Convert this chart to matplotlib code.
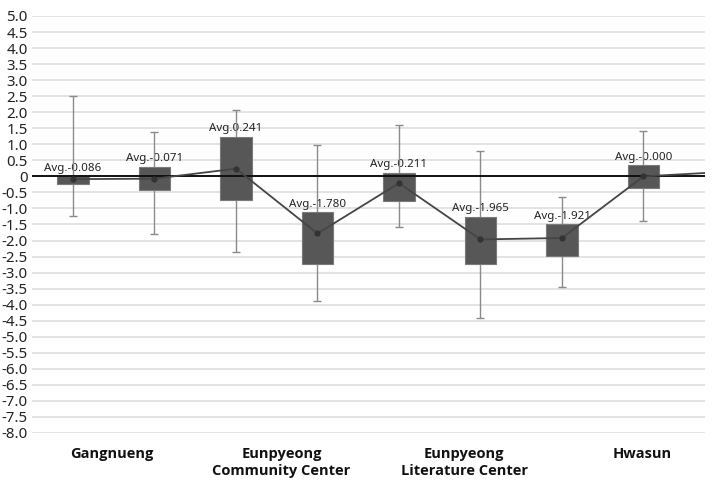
import numpy as np
import matplotlib.pyplot as plt
from matplotlib.transforms import blended_transform_factory

###############################################################################
# Data
###############################################################################
avg = [-0.086, -0.071, 0.241, -1.780, -0.211, -1.965, -1.921, -0.000]
avgLabels = ['Avg.-0.086', 'Avg.-0.071', 'Avg.0.241', 'Avg.-1.780',
             'Avg.-0.211', 'Avg.-1.965', 'Avg.-1.921', 'Avg.-0.000']
boxTop = [0.0, 0.30, 1.23, -1.12, 0.10, -1.26, -1.50, 0.34]
boxBot = [-0.23, -0.44, -0.74, -2.74, -0.76, -2.74, -2.47, -0.37]
whiskTop = [2.50, 1.39, 2.06, 0.99, 1.60, 0.79, -0.63, 1.43]
whiskBot = [-1.25, -1.80, -2.35, -3.89, -1.59, -4.41, -3.44, -1.38]
tailValue = 0.14   # the line runs on past the right edge
categories = ['Gangnueng', 'Eunpyeong\nCommunity Center',
              'Eunpyeong\nLiterature Center', 'Hwasun']
catPos = [0.48, 2.56, 4.80, 6.98]
yTicks = np.arange(-8.0, 5.01, 0.5)

###############################################################################
# Plot
###############################################################################
plt.rcParams['font.family'] = ['Noto Sans', 'DejaVu Sans']
fig = plt.figure(figsize=(7.15, 4.83), dpi=100)
ax = fig.add_axes([32/715, 50/483, 673/715, 417/483])
ax.set_xlim(-0.503, 7.755)
ax.set_ylim(-8.0, 5.0)

x = np.arange(len(avg))
ax.set_yticks(yTicks)
ax.set_yticklabels(['0' if abs(v) < 1e-9 else '{:.1f}'.format(v)
                    for v in yTicks], fontsize=10.8, color='#222222')
ax.tick_params(axis='y', length=0, pad=3)
ax.set_xticks([])
for s in ax.spines.values():
    s.set_visible(False)
ax.yaxis.grid(True, color='#e3e3e3', linewidth=1.4, zorder=0)
ax.set_axisbelow(True)

# whiskers
ax.errorbar(x, avg,
            yerr=[np.array(avg) - np.array(whiskBot),
                  np.array(whiskTop) - np.array(avg)],
            fmt='none', ecolor='#8a8a8a', elinewidth=1.0, capsize=3,
            capthick=1.0, zorder=2)
# boxes
ax.bar(x, np.array(boxTop) - np.array(boxBot), bottom=boxBot, width=0.39,
       color='#575757', edgecolor='#7a7a7a', linewidth=0.8, zorder=3)
# zero line
ax.axhline(0, color='#111111', linewidth=1.4, zorder=4)
# average line
ax.plot(list(x) + [len(avg)], avg + [tailValue], color='#454545',
        linewidth=1.3, zorder=5, clip_on=True)
ax.plot(x, avg, 'o', color='#333333', markersize=3.5, zorder=6)

for i in range(len(avg)):
    ax.annotate(avgLabels[i], (x[i], boxTop[i]), xytext=(0, 2),
                textcoords='offset points', ha='center', va='bottom',
                fontsize=8.3, color='#222222', zorder=1)

trans = blended_transform_factory(ax.transData, ax.transAxes)
for (p, c) in zip(catPos, categories):
    ax.text(p, -0.034, c, transform=trans, ha='center', va='top',
            fontsize=10.5, fontweight='bold', color='#111111',
            linespacing=1.25, family=['Open Sans', 'DejaVu Sans'])

fig.savefig('out.png', dpi=100)
